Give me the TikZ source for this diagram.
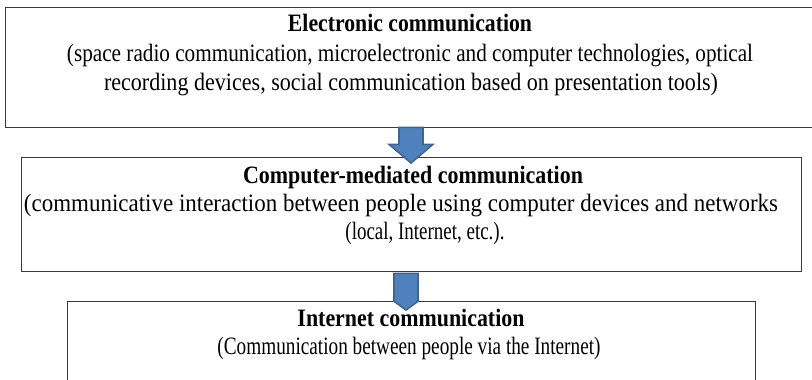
\documentclass[tikz,border=0pt]{standalone}
\usepackage{fontspec}
\usepackage{graphicx}
\setmainfont{Liberation Serif}
\usetikzlibrary{calc}
\definecolor{arrfill}{HTML}{4F81BD}
\definecolor{arrline}{HTML}{41658F}
\definecolor{boxline}{HTML}{3A3A3A}
\newcommand{\fitline}[2]{\resizebox{#1pt}{\height}{#2}}
\tikzset{
  box/.style={draw=boxline, line width=1.3pt, rectangle, inner sep=0pt},
  txt/.style={inner sep=0pt, anchor=base, font=\fontsize{25}{28}\selectfont},
  ttl/.style={txt, font=\fontsize{25}{28}\selectfont\bfseries},
  blockarrow/.style={fill=arrfill, draw=arrline, line width=1.6pt, line join=miter}
}
\begin{document}
\begin{tikzpicture}[x=1pt,y=-1pt]
\useasboundingbox (0,0) rectangle (812,380);
\node[box, minimum width=812pt, minimum height=120pt, anchor=north west] (b1) at (5,7) {};
\node[box, minimum width=780pt, minimum height=114pt, anchor=north west] (b2) at (21,157) {};
\node[box, minimum width=688pt, minimum height=100pt, anchor=north west] (b3) at (67,301) {};

\node[ttl] (t1) at (410,31) {\fitline{244}{Electronic communication}};
\node[txt] (t1a) at (410,62) {\fitline{686}{(space radio communication, microelectronic and computer technologies, optical}};
\node[txt] (t1b) at (411,90) {\fitline{614}{recording devices, social communication based on presentation tools)}};

\node[ttl] (t2) at (413,183) {\fitline{340}{Computer-mediated communication}};
\node[txt] (t2a) at (401,211) {\fitline{754}{(communicative interaction between people using computer devices and networks}};
\node[txt] (t2b) at (425,239) {\fitline{159}{(local, Internet, etc.).}};

\node[ttl] (t3) at (411,326) {\fitline{227}{Internet communication}};
\node[txt] (t3a) at (409,354) {\fitline{383}{(Communication between people via the Internet)}};

% arrow 1: from b1 to b2
\coordinate (a1) at ($(b1.south west)+(406,0)$);
\draw[blockarrow] ($(a1)+(-12,-1)$) -- ($(a1)+(12,-1)$) -- ($(a1)+(12,16)$) -- ($(a1)+(22,16)$)
  -- ($(b2.north west)+(390,6)$) -- ($(a1)+(-22,16)$) -- ($(a1)+(-12,16)$) -- cycle;
% arrow 2: from b2 to b3
\coordinate (a2) at ($(b2.south west)+(385,0)$);
\draw[blockarrow] ($(a2)+(-12,1)$) -- ($(a2)+(12,1)$) -- ($(a2)+(12,29)$)
  -- ($(b3.north west)+(339,9)$) -- ($(a2)+(-12,29)$) -- cycle;
\end{tikzpicture}
\end{document}
